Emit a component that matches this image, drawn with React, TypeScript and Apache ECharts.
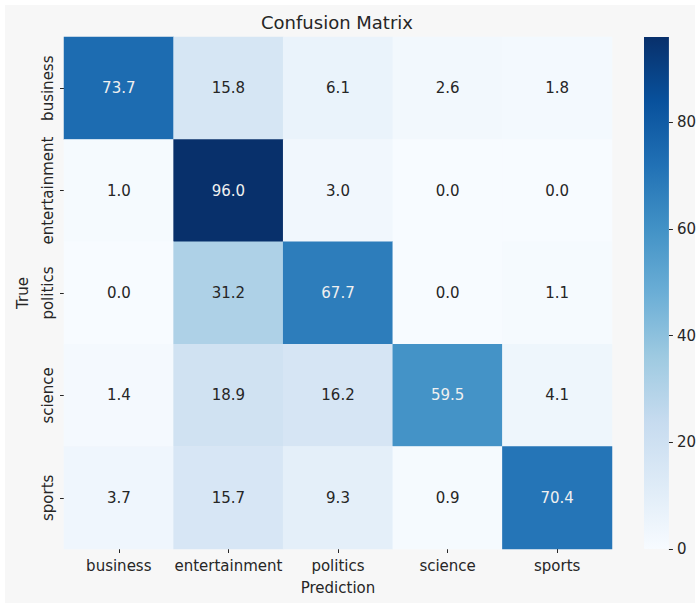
import React, { useEffect, useRef } from "react";
import * as echarts from "echarts";

const predictionLabels = ["business", "entertainment", "politics", "science", "sports"];
const trueLabels = ["business", "entertainment", "politics", "science", "sports"];
const matrix: number[][] = [
  [73.7, 15.8, 6.1, 2.6, 1.8],
  [1.0, 96.0, 3.0, 0.0, 0.0],
  [0.0, 31.2, 67.7, 0.0, 1.1],
  [1.4, 18.9, 16.2, 59.5, 4.1],
  [3.7, 15.7, 9.3, 0.9, 70.4],
];
const colorbarTicks = [0, 20, 40, 60, 80];
const blues = ["#f7fbff", "#deebf7", "#c6dbef", "#9ecae1", "#6baed6", "#4292c6", "#2171b5", "#08519c", "#08306b"];

const FONT = "DejaVu Sans";
const TXT = "#262626";
const FS = 15;

export default function App() {
  const ref = useRef<HTMLDivElement>(null);
  useEffect(() => {
    if (!ref.current) return;
    const chart = echarts.init(ref.current, undefined, { renderer: "svg" });
    const vmin = 0;
    const vmax = Math.max(...matrix.flat());
    const data: any[] = [];
    matrix.forEach((row, i) => {
      row.forEach((v, j) => {
        data.push({
          value: [j, i, v],
          label: { color: v > vmax / 2 ? "#f0f0f0" : TXT },
        });
      });
    });
    const reversed = blues.slice().reverse();
    const gradStops = reversed.map((c, k) => ({ offset: k / (reversed.length - 1), color: c }));
    chart.setOption({
      animation: false,
      backgroundColor: "#ffffff",
      textStyle: { fontFamily: FONT },
      graphic: [
        {
          type: "rect",
          z: -10,
          silent: true,
          shape: { x: 5, y: 5, width: 690, height: 598 },
          style: { fill: "#f7f7f7" },
        },
        {
          type: "text",
          x: 337,
          y: 22,
          style: {
            text: "Confusion Matrix",
            fontFamily: FONT,
            fontSize: 18,
            fill: TXT,
            align: "center",
            verticalAlign: "middle",
          },
        },
      ],
      grid: [
        { left: 64, top: 37, width: 548, height: 512 },
        { left: 644, top: 37, width: 25, height: 512 },
      ],
      xAxis: [
        {
          gridIndex: 0,
          type: "category",
          data: predictionLabels,
          position: "bottom",
          name: "Prediction",
          nameLocation: "middle",
          nameGap: 31,
          nameTextStyle: { fontFamily: FONT, fontSize: FS, color: TXT },
          axisLine: { show: false },
          axisTick: { show: true, alignWithLabel: true, interval: 0, length: 4, lineStyle: { color: TXT } },
          axisLabel: { fontFamily: FONT, fontSize: FS, color: TXT, margin: 9, interval: 0 },
          splitLine: { show: false },
        },
        {
          gridIndex: 1,
          type: "category",
          data: [""],
          show: false,
        },
      ],
      yAxis: [
        {
          gridIndex: 0,
          type: "category",
          data: trueLabels,
          inverse: true,
          name: "True",
          nameLocation: "middle",
          nameGap: 34,
          nameRotate: 90,
          nameTextStyle: { fontFamily: FONT, fontSize: FS, color: TXT },
          axisLine: { show: false },
          axisTick: { show: true, alignWithLabel: true, interval: 0, length: 4, lineStyle: { color: TXT } },
          axisLabel: { fontFamily: FONT, fontSize: FS, color: TXT, rotate: 90, margin: 9, interval: 0 },
          splitLine: { show: false },
        },
        {
          gridIndex: 1,
          type: "value",
          min: vmin,
          max: vmax,
          interval: 20,
          position: "right",
          axisLine: { show: false },
          axisTick: { show: true, length: 4, lineStyle: { color: TXT } },
          axisLabel: {
            fontFamily: FONT,
            fontSize: FS,
            color: TXT,
            margin: 8,
            showMaxLabel: false,
            formatter: (v: number) => (colorbarTicks.includes(v) ? String(v) : ""),
          },
          splitLine: { show: false },
        },
      ],
      visualMap: {
        show: false,
        min: vmin,
        max: vmax,
        seriesIndex: [0],
        dimension: 2,
        inRange: { color: blues },
      },
      series: [
        {
          type: "heatmap",
          xAxisIndex: 0,
          yAxisIndex: 0,
          data,
          label: {
            show: true,
            fontFamily: FONT,
            fontSize: FS,
            formatter: (p: any) => p.value[2].toFixed(1),
          },
          itemStyle: { borderWidth: 0 },
          emphasis: { disabled: true },
        },
        {
          type: "bar",
          xAxisIndex: 1,
          yAxisIndex: 1,
          data: [vmax],
          barWidth: "100%",
          silent: true,
          itemStyle: {
            color: new echarts.graphic.LinearGradient(0, 0, 0, 1, gradStops),
          },
        },
      ],
    });
    return () => chart.dispose();
  }, []);
  return (
    <div style={{ position: "fixed", left: 0, top: 0, width: 699, height: 608 }}>
      <div ref={ref} style={{ width: 699, height: 608 }} />
    </div>
  );
}
